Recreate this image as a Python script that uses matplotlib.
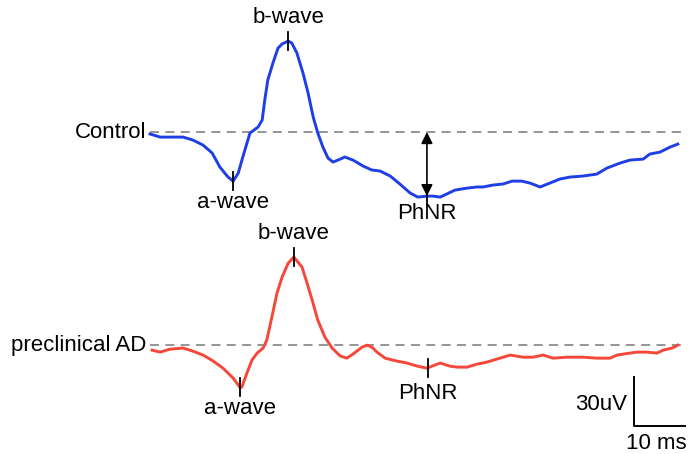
import matplotlib.pyplot as plt

plt.rcParams['font.family'] = ['Liberation Sans', 'DejaVu Sans']

# Control trace (time in ms, amplitude in uV relative to its baseline)
ctrl_t = [0, 2.0, 6.5, 8.4, 10.4, 12.2, 13.7, 15.3, 16.3, 17.3, 18.2, 19.6, 21.2,
          22.0, 22.5, 23.1, 24.1, 25.1, 25.9, 27.1, 27.8, 28.8, 30.0, 31.0, 32.0,
          32.9, 33.9, 34.9, 35.9, 37.3, 38.2, 39.8, 41.8, 43.5, 45.1, 47.1, 49.0,
          51.0, 52.5, 54.3, 55.5, 56.9, 58.2, 59.8, 62.2, 64.1, 65.3, 67.3, 69.2,
          71.0, 72.9, 74.5, 76.5, 78.4, 80.4, 82.4, 84.9, 87.6, 89.6, 92.2, 94.1,
          96.7, 98.0, 100.0, 102.0, 103.5]
ctrl_uv = [-1.2, -3.1, -3.1, -4.9, -8.0, -12.9, -21.5, -27.6, -30.1, -25.2, -15.3,
           -0.6, 3.1, 7.4, 19.6, 31.9, 42.3, 51.5, 54.0, 55.8, 54.6, 48.5, 36.2,
           23.9, 9.2, -0.6, -9.2, -16.0, -18.4, -16.6, -15.3, -17.2, -20.9, -23.3,
           -23.9, -27.0, -31.9, -37.4, -39.9, -39.3, -39.3, -39.9, -38.0, -35.6,
           -34.4, -33.7, -33.7, -32.5, -31.9, -30.1, -30.1, -31.3, -33.7, -31.3,
           -28.8, -27.6, -27.0, -25.8, -22.1, -19.0, -17.2, -16.6, -13.5, -12.3,
           -9.2, -7.4]

# Preclinical AD trace
ad_t = [0.4, 2.0, 3.9, 6.5, 8.4, 10.4, 12.4, 14.3, 16.3, 17.6, 18.0, 19.0, 20.0,
        21.0, 22.2, 22.9, 23.9, 24.9, 25.9, 27.1, 28.2, 29.8, 30.8, 31.8, 32.9,
        34.3, 35.7, 37.3, 38.6, 39.8, 41.6, 42.7, 43.7, 44.5, 46.1, 48.4, 50.4,
        52.4, 54.3, 56.9, 58.8, 60.2, 62.2, 64.1, 66.1, 68.0, 70.6, 73.1, 75.1,
        77.1, 79.0, 81.8, 84.9, 87.6, 90.2, 91.6, 94.1, 95.5, 97.5, 99.4, 100.6,
        102.4, 103.5]
ad_uv = [-3.1, -4.3, -2.5, -1.8, -3.7, -6.1, -9.8, -14.1, -20.2, -25.8, -25.8,
         -17.2, -9.2, -4.9, -1.8, 3.1, 17.2, 31.9, 41.7, 50.3, 54.0, 47.9, 38.0,
         27.6, 15.3, 4.9, -1.8, -6.7, -8.0, -5.5, -1.2, 0.0, -1.8, -4.3, -8.0,
         -9.8, -11.0, -12.9, -14.1, -11.0, -12.9, -13.5, -13.5, -11.7, -10.4,
         -8.6, -6.1, -7.4, -7.4, -6.1, -8.0, -7.4, -7.4, -8.0, -8.0, -6.1, -4.9,
         -4.3, -4.3, -4.9, -3.1, -1.8, 0.0]

# peak markers: (label, time ms, amplitude uV)
ctrl_peaks = [('a-wave', 16.3, -30.1), ('b-wave', 27.1, 55.8), ('PhNR', 54.3, -39.3)]
ad_peaks = [('a-wave', 17.6, -25.8), ('b-wave', 28.2, 54.0), ('PhNR', 54.5, -14.1)]

SCALE_MS = 10
SCALE_UV = 30
AD_OFFSET = -130.7  # vertical spacing between traces

fig = plt.figure(figsize=(6.9, 4.54), dpi=100)
ax = fig.add_axes([0, 0, 1, 1])
ax.set_xlim(-29.41, 105.88)
ax.set_ylim(-197.5, 81.0)
ax.axis('off')

blue = '#1f3fe6'
red = '#f5473a'
fs = 16

def draw_trace(t, uv, off, color, name, peaks, below_phnr):
    ax.plot([0, 104.5], [off, off], color='#8c8c8c', lw=1.3, ls=(0, (5, 3.5)), zorder=1)
    ax.plot(t, [v + off for v in uv], color=color, lw=2.1, zorder=2)
    ax.text(-0.8, off, name, ha='right', va='center', fontsize=fs)
    for lab, pt, pv in peaks:
        y = pv + off
        ax.plot([pt, pt], [y - 5.5, y + 5.5], color='black', lw=1.3, zorder=3)
        if lab == 'b-wave':
            ax.text(pt, y + 14.5, lab, ha='center', va='center', fontsize=fs)
        elif lab == 'a-wave':
            ax.text(pt, y - 13, lab, ha='center', va='center', fontsize=fs)
        else:
            ax.text(pt, y - below_phnr, lab, ha='center', va='center', fontsize=fs)

draw_trace(ctrl_t, ctrl_uv, 0, blue, 'Control', ctrl_peaks, 10.5)
draw_trace(ad_t, ad_uv, AD_OFFSET, red, 'preclinical AD', ad_peaks, 15.5)

# amplitude arrow for control PhNR
ax.annotate('', xy=(54.3, 0), xytext=(54.3, -39.3),
            arrowprops=dict(arrowstyle='<|-|>', color='black', lw=1.2,
                            mutation_scale=17, shrinkA=0, shrinkB=0))

# scale bar
sx, sy = 94.9, -180.4
ax.plot([sx, sx, sx + SCALE_MS], [sy + SCALE_UV, sy, sy], color='black', lw=1.4)
ax.text(sx - 1.4, sy + 13.5, '30uV', ha='right', va='center', fontsize=fs)
ax.text(105.2, sy - 10.5, '10 ms', ha='right', va='center', fontsize=fs)

fig.savefig('out.png', dpi=100)
